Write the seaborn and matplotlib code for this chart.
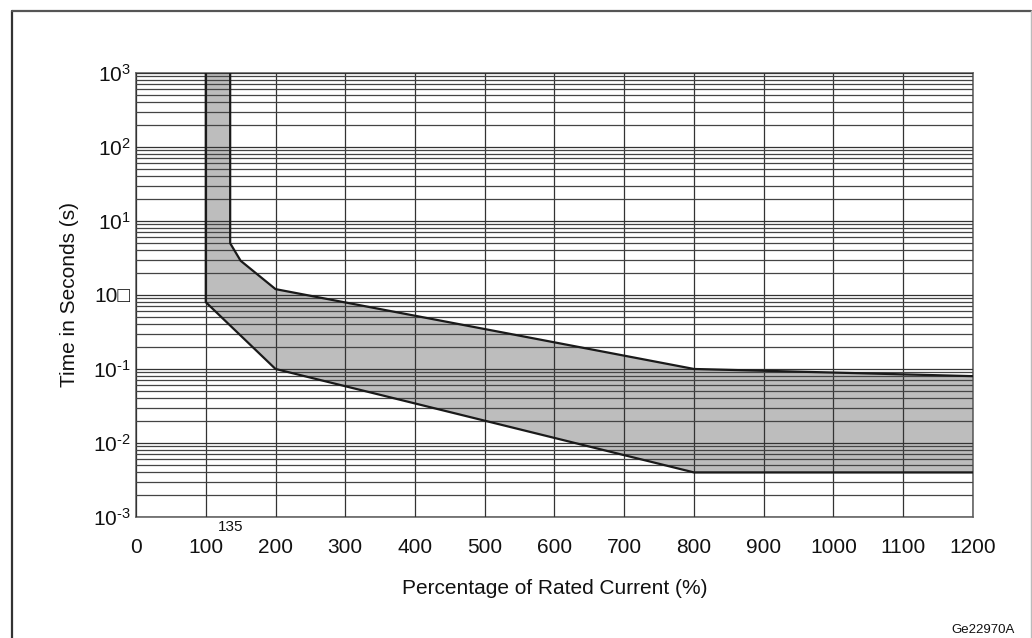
import numpy as np
import pandas as pd
import matplotlib
matplotlib.use("Agg")
import matplotlib.pyplot as plt
import seaborn as sns
from matplotlib.lines import Line2D
from matplotlib.ticker import FixedLocator, LogLocator, NullFormatter

# -----------------------------
# DATA
# -----------------------------
# upper limit of the trip band
x_upper = [135, 135, 150, 200, 800, 1200]
t_upper = [1000, 5, 2.9, 1.2, 0.1, 0.08]

# lower limit of the trip band
x_lower = [100, 100, 200, 800, 1200]
t_lower = [1000, 0.8, 0.1, 0.004, 0.004]

x_ticks = list(range(0, 1300, 100))
y_ticks = [1e-3, 1e-2, 1e-1, 1e0, 1e1, 1e2, 1e3]
y_ticklabels = [r"$10^{\text{-}3}$", r"$10^{\text{-}2}$", r"$10^{\text{-}1}$",
                "10\u25a1", "$10^{1}$", "$10^{2}$", "$10^{3}$"]

# -----------------------------
# STYLE
# -----------------------------
sns.set_theme(style="white")
plt.rcParams["font.family"] = ["Liberation Sans", "DejaVu Sans"]
plt.rcParams["mathtext.fontset"] = "custom"
plt.rcParams["mathtext.rm"] = "Liberation Sans"
plt.rcParams["mathtext.it"] = "Liberation Sans:italic"

FS = 15

fig = plt.figure(figsize=(10.32, 6.38), dpi=100)
ax = fig.add_axes([0.1318, 0.1897, 0.8110, 0.6959])

# shaded band
band_x = np.concatenate([x_lower, x_upper[::-1]])
band_t = np.concatenate([t_lower, t_upper[::-1]])
ax.fill(band_x, band_t, color="#bdbdbd", zorder=1, linewidth=0)

upper = pd.DataFrame({"x": x_upper, "t": t_upper})
lower = pd.DataFrame({"x": x_lower, "t": t_lower})
sns.lineplot(data=upper, x="x", y="t", sort=False, estimator=None,
             color="#1a1a1a", linewidth=1.6, ax=ax, zorder=3)
sns.lineplot(data=lower, x="x", y="t", sort=False, estimator=None,
             color="#1a1a1a", linewidth=1.6, ax=ax, zorder=3)

ax.set_yscale("log")
ax.set_xlim(0, 1200)
ax.set_ylim(1e-3, 1e3)

ax.xaxis.set_major_locator(FixedLocator(x_ticks))
ax.set_yticks(y_ticks)
ax.set_yticklabels(y_ticklabels)
ax.yaxis.set_minor_locator(LogLocator(base=10, subs=np.arange(2, 10)))
ax.yaxis.set_minor_formatter(NullFormatter())

ax.set_axisbelow(False)
ax.grid(True, which="major", axis="both", color="#333333", linewidth=0.9)
ax.grid(True, which="minor", axis="y", color="#444444", linewidth=0.9)

ax.tick_params(axis="x", length=0, pad=15, labelsize=FS, colors="#111111")
ax.tick_params(axis="y", which="both", length=0, pad=4, labelsize=FS,
               colors="#111111")

for s in ax.spines.values():
    s.set_color("#666666")
    s.set_linewidth(1.2)

ax.set_xlabel("Percentage of Rated Current (%)", fontsize=FS,
              color="#111111", labelpad=16)
ax.set_ylabel("Time in Seconds (s)", fontsize=FS, color="#111111",
              labelpad=10)

# extra marker label at 135 %
ax.text(135, 10 ** -3.14, "135", fontsize=11, ha="center", va="center",
        color="#111111")

# drawing number
fig.text(0.983, 0.013, "Ge22970A", fontsize=9.5, ha="right", va="center",
         color="#111111")

# frame around the figure
fl, ft, fr = 11.5 / 1032, 1 - 10.5 / 638, 1031 / 1032
fig.lines.append(Line2D([fl, fl], [0, ft], transform=fig.transFigure,
                        color="#333333", linewidth=1.6))
fig.lines.append(Line2D([fl, fr], [ft, ft], transform=fig.transFigure,
                        color="#555555", linewidth=1.6))
fig.lines.append(Line2D([fr, fr], [0, ft], transform=fig.transFigure,
                        color="#bbbbbb", linewidth=1.0))

fig.savefig("out.png", dpi=100)
